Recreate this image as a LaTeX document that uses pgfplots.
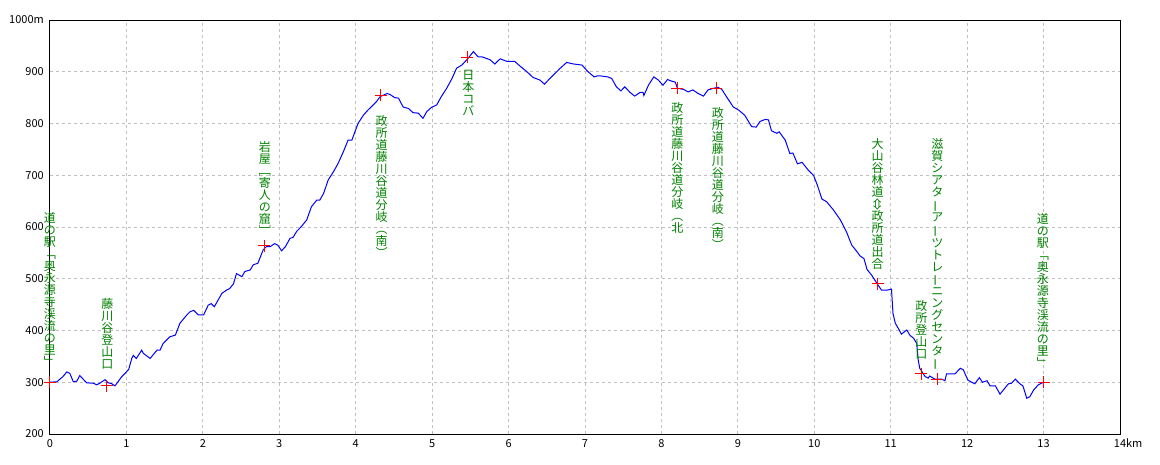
\documentclass[border=0pt]{standalone}
\usepackage{fontspec}
\usepackage{pgfplots}
\pgfplotsset{compat=1.18}
\usepackage{graphicx}
\newfontfamily\jp{Noto Sans CJK JP}
\setmainfont{Noto Sans CJK JP}
\definecolor{lblgreen}{RGB}{0,128,0}
\definecolor{gridgray}{RGB}{192,192,192}
\newcommand{\vbar}{\rotatebox[origin=c]{90}{ー}}
\begin{document}
\begin{tikzpicture}[lbl/.style={text=lblgreen, font=\jp\fontsize{12}{12}\selectfont, align=center, inner sep=0pt, anchor=north}]
\path[use as bounding box] (-50pt,-30pt) rectangle (1110pt,434pt);
\begin{axis}[name=ax, at={(0,0)}, anchor=south west,
  scale only axis, width=1070pt, height=414pt,
  xmin=0, xmax=14, ymin=200, ymax=1000,
  xtick={0,1,...,14}, ytick={200,300,...,1000},
  xticklabels={0,1,2,3,4,5,6,7,8,9,10,11,12,13,{14\rlap{km}}},
  yticklabels={200,300,400,500,600,700,800,900,1000m},
  /pgf/number format/assume math mode=true,
  ticklabel style={font=\jp\fontsize{11}{11}\selectfont, inner sep=0pt},
  yticklabel style={anchor=east, xshift=-6pt},
  xticklabel style={anchor=north, yshift=-5pt},
  major tick length=0pt,
  grid=major,
  major grid style={gridgray, dash pattern=on 3pt off 3pt, line width=1pt},
  axis line style={line width=1pt, black},
  clip=false]
\addplot[blue, line width=1pt] coordinates {
(0.00,300) (0.09,301) (0.13,306) (0.17,311) (0.22,320) (0.26,317) (0.305,301) (0.35,302)
(0.39,313) (0.44,305) (0.48,299) (0.57,298) (0.61,295) (0.65,298) (0.72,305) (0.76,299)
(0.81,297) (0.85,293) (0.89,301) (0.94,311) (0.98,317) (1.03,325) (1.07,346) (1.09,352)
(1.13,346) (1.20,362) (1.22,356) (1.31,346) (1.40,362) (1.44,362) (1.48,375) (1.57,388)
(1.64,391) (1.70,414) (1.79,430) (1.83,436) (1.88,439) (1.94,430) (2.01,430) (2.07,449)
(2.11,452) (2.15,446) (2.20,459) (2.25,472) (2.31,478) (2.35,481) (2.40,490) (2.44,510)
(2.51,504) (2.55,514) (2.62,517) (2.66,527) (2.72,530) (2.79,556) (2.83,562) (2.88,562)
(2.94,568) (2.98,565) (3.03,554) (3.08,562) (3.14,578) (3.18,580) (3.23,592) (3.29,601)
(3.36,614) (3.42,639) (3.49,652) (3.53,652) (3.58,665) (3.64,691) (3.71,707) (3.77,723)
(3.84,746) (3.90,768) (3.95,768) (3.99,784) (4.03,800) (4.10,816) (4.16,826) (4.23,836)
(4.27,842) (4.32,852) (4.41,858) (4.45,856) (4.51,850) (4.56,849) (4.62,832) (4.69,829)
(4.75,821) (4.82,820) (4.88,810) (4.93,823) (4.99,831) (5.06,836) (5.12,852) (5.19,868)
(5.26,887) (5.32,907) (5.39,913) (5.47,926) (5.54,939) (5.60,929) (5.65,929) (5.76,923)
(5.82,915) (5.89,925) (5.98,920) (6.08,920) (6.15,911) (6.24,900) (6.32,889) (6.41,884)
(6.47,876) (6.54,887) (6.63,900) (6.67,906) (6.76,918) (6.85,915) (6.96,913) (7.04,900)
(7.12,890) (7.16,892) (7.20,892) (7.30,890) (7.35,887) (7.41,871) (7.47,863) (7.52,871)
(7.59,860) (7.65,853) (7.72,860) (7.76,860) (7.77,854) (7.83,874) (7.90,890) (7.96,884)
(8.02,874) (8.08,885) (8.13,882) (8.18,880) (8.21,868) (8.29,866) (8.35,861) (8.41,865)
(8.48,858) (8.55,853) (8.61,865) (8.68,868) (8.74,870) (8.79,866) (8.85,852) (8.94,832)
(9.01,826) (9.09,816) (9.18,794) (9.24,793) (9.29,804) (9.36,808) (9.40,807) (9.44,786)
(9.51,781) (9.54,784) (9.62,768) (9.68,742) (9.72,743) (9.78,722) (9.84,725) (9.92,710)
(9.99,700) (10.04,681) (10.10,654) (10.16,649) (10.25,633) (10.34,614) (10.42,591) (10.49,565)
(10.55,554) (10.60,544) (10.65,539) (10.69,518) (10.75,507) (10.82,491) (10.88,478) (10.95,478)
(11.01,480) (11.03,433) (11.06,414) (11.10,404) (11.14,393) (11.21,401) (11.25,391) (11.30,385)
(11.34,375) (11.36,343) (11.38,327) (11.45,311) (11.49,308) (11.51,312) (11.58,306) (11.67,306)
(11.71,303) (11.73,316) (11.84,316) (11.91,327) (11.95,324) (12.01,304) (12.10,297) (12.16,309)
(12.20,300) (12.26,303) (12.30,293) (12.37,293) (12.43,277) (12.49,288) (12.54,297) (12.58,298)
(12.63,306) (12.69,297) (12.73,293) (12.78,269) (12.82,272) (12.87,285) (12.93,295) (13.00,300)
};
\addplot[red, only marks, mark=+, mark size=6pt, line width=1pt] coordinates {
(0,300) (0.74,293) (2.80,564) (4.33,855) (5.46,928) (8.21,868) (8.72,868)
(10.83,490) (11.40,316) (11.61,306) (13.0,300)
};
\node[lbl] at (axis cs:0,629) {道\\の\\駅\\﹁\\奥\\永\\源\\寺\\渓\\流\\の\\里\\﹂};
\node[lbl] at (axis cs:0.75,462) {藤\\川\\谷\\登\\山\\口};
\node[lbl] at (axis cs:2.81,765) {岩\\屋\\﹇\\寄\\人\\の\\窟\\﹈};
\node[lbl] at (axis cs:4.34,816) {政\\所\\道\\藤\\川\\谷\\道\\分\\岐\\︵\\南\\︶};
\node[lbl] at (axis cs:5.475,903) {日\\本\\コ\\バ};
\node[lbl] at (axis cs:8.21,842) {政\\所\\道\\藤\\川\\谷\\道\\分\\岐\\︵\\北};
\node[lbl] at (axis cs:8.74,831) {政\\所\\道\\藤\\川\\谷\\道\\分\\岐\\︵\\南\\︶};
\node[lbl] at (axis cs:10.83,772) {大\\山\\谷\\林\\道\\\rotatebox[origin=c]{90}{⇔}\\政\\所\\道\\出\\合};
\node[lbl] at (axis cs:11.40,458) {政\\所\\登\\山\\口};
\node[lbl] at (axis cs:11.61,771) {滋\\賀\\シ\\ア\\タ\\\vbar\\ア\\\vbar\\ツ\\ト\\レ\\\vbar\\ニ\\ン\\グ\\セ\\ン\\タ\\\vbar};
\node[lbl] at (axis cs:12.99,626) {道\\の\\駅\\﹁\\奥\\永\\源\\寺\\渓\\流\\の\\里\\﹂};
\end{axis}
\end{tikzpicture}
\end{document}
